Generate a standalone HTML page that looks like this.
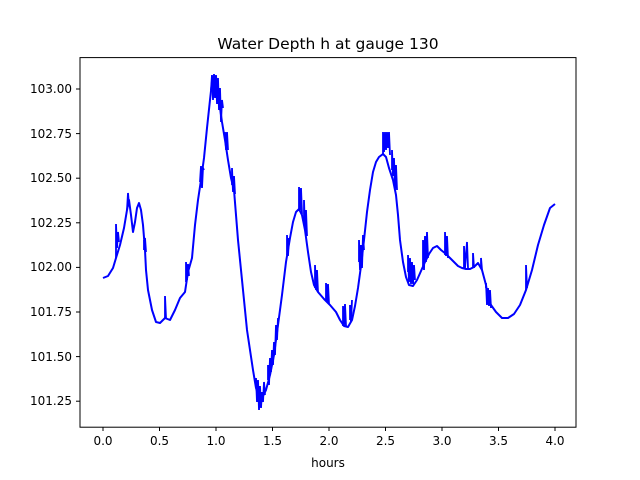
<!DOCTYPE html>
<html><head><meta charset="utf-8"><style>body{margin:0;background:#fff}svg{display:block}text{font-family:"DejaVu Sans","Liberation Sans",sans-serif;fill:#000}</style></head>
<body>
<svg width="640" height="480" viewBox="0 0 640 480" xmlns="http://www.w3.org/2000/svg">
<rect width="640" height="480" fill="#fff"/>
<text x="328" y="49" font-size="15.5" text-anchor="middle">Water Depth h at gauge 130</text>
<polyline fill="none" stroke="#0000ff" stroke-width="2" stroke-linejoin="round" points="
103,278 108,276 113,268 116,258 120,245 124,228 127,210 129,200 131,215 133,232 135,222 137,208 139,203 141,210 143,225 145,250 146,270 148,290 152,310 156,322 160,323 165,318 170,320 175,310 180,298 185,292 188,272 192,258 195,225 198,200 201,180 204,158 207,128 210,100 212,82 214,76 216,77 218,90 220,108 222,122 225,140 228,160 231,178 234,190 236,215 238,240 241,270 244,300 247,330 250,350 253,370 256,388 259,398 262,398 266,390 270,375 274,355 278,325 282,295 286,262 290,238 293,222 296,212 299,209 302,215 305,230 308,252 311,272 314,285 318,292 324,299 330,305 336,312 340,320 344,326 348,327 352,320 355,306 358,288 361,266 364,240 367,212 370,190 373,172 376,162 379,157 383,154 386,157 389,168 393,180 396,195 398,215 400,240 403,262 406,277 409,285 413,286 417,280 421,271 425,262 429,254 433,248 437,246 441,250 446,254 450,258 454,262 458,266 462,268 466,269 470,269 474,267 478,263 482,270 486,285 488,300 491,305 496,312 502,318 508,318 514,314 520,305 526,290 532,270 538,245 544,225 550,208 555,204"/>
<g stroke="#0000ff" stroke-width="1.8" fill="none">
<polyline points="116,258 116,224 117,248 118,232 119,242"/>
<polyline points="127,210 128,193 129,205"/>
<polyline points="144,240 144,250 145,238 146,252"/>
<polyline points="165,318 165,296 166,318"/>
<polyline points="186,282 186,262 187,280 188,264 189,276"/>
<polyline points="200,182 201,166 202,188 203,168 204,170"/>
<polyline points="211,90 212,75 213,100 214,74 215,98 216,75 217,104 218,78 219,110 220,88 221,122 222,100 223,108"/>
<polyline points="225,140 225,132 226,150 227,132 228,150"/>
<polyline points="232,185 232,168 233,192 234,176 235,194"/>
<polyline points="256,388 256,378 257,402 258,380 259,410 260,386 261,408 262,392 263,402 264,382 265,395"/>
<polyline points="268,380 268,365 269,385 270,358 271,372 272,350 273,365 274,342 275,355 276,325 277,340 278,318"/>
<polyline points="287,255 287,235 288,256 289,238"/>
<polyline points="299,209 299,187 300,210 301,188 302,214"/>
<polyline points="304,225 304,200 305,230 306,210 307,236"/>
<polyline points="315,288 315,265 316,290 317,270 318,292"/>
<polyline points="326,300 326,283 327,302 328,284 329,304"/>
<polyline points="343,326 343,306 344,326 345,304 346,326"/>
<polyline points="350,320 350,305 351,322 352,300"/>
<polyline points="359,262 359,240 360,270 361,245 362,268 363,235 364,250"/>
<polyline points="383,154 383,132 384,152 385,132 386,150 387,132 388,148 389,132 390,155"/>
<polyline points="392,170 392,150 393,176 394,158 395,190 396,165 397,190"/>
<polyline points="408,272 408,255 409,282 410,258 411,284 412,262 413,284 414,265 415,280"/>
<polyline points="423,266 423,240 424,270 425,236 426,262 427,232 428,258"/>
<polyline points="445,255 445,232 446,256 447,236 448,258"/>
<polyline points="464,268 464,246 465,268 467,242 468,268"/>
<polyline points="473,268 473,253 474,268"/>
<polyline points="481,266 481,258 482,270"/>
<polyline points="486,288 486,283 487,305 488,288 489,306 490,290 491,308"/>
<polyline points="526,290 526,265 527,288"/>
</g>
<rect x="80" y="57.6" width="496" height="369.6" fill="none" stroke="#000" stroke-width="1"/>
<g stroke="#000" stroke-width="1">
<line x1="103" y1="427" x2="103" y2="431"/><line x1="159.5" y1="427" x2="159.5" y2="431"/><line x1="216" y1="427" x2="216" y2="431"/><line x1="272.5" y1="427" x2="272.5" y2="431"/><line x1="329" y1="427" x2="329" y2="431"/><line x1="385.5" y1="427" x2="385.5" y2="431"/><line x1="442" y1="427" x2="442" y2="431"/><line x1="498.5" y1="427" x2="498.5" y2="431"/><line x1="555" y1="427" x2="555" y2="431"/>
<line x1="76" y1="89" x2="80" y2="89"/><line x1="76" y1="133.6" x2="80" y2="133.6"/><line x1="76" y1="178.2" x2="80" y2="178.2"/><line x1="76" y1="222.8" x2="80" y2="222.8"/><line x1="76" y1="267.4" x2="80" y2="267.4"/><line x1="76" y1="312" x2="80" y2="312"/><line x1="76" y1="356.6" x2="80" y2="356.6"/><line x1="76" y1="401.2" x2="80" y2="401.2"/>
</g>
<g font-size="12" text-anchor="middle">
<text x="103" y="445">0.0</text><text x="159.5" y="445">0.5</text><text x="216" y="445">1.0</text><text x="272.5" y="445">1.5</text><text x="329" y="445">2.0</text><text x="385.5" y="445">2.5</text><text x="442" y="445">3.0</text><text x="498.5" y="445">3.5</text><text x="555" y="445">4.0</text>
</g>
<text x="328" y="467" font-size="12" text-anchor="middle">hours</text>
<g font-size="12" text-anchor="end">
<text x="72" y="93">103.00</text><text x="72" y="138">102.75</text><text x="72" y="182">102.50</text><text x="72" y="227">102.25</text><text x="72" y="271">102.00</text><text x="72" y="316">101.75</text><text x="72" y="361">101.50</text><text x="72" y="405">101.25</text>
</g>
</svg>
</body></html>
